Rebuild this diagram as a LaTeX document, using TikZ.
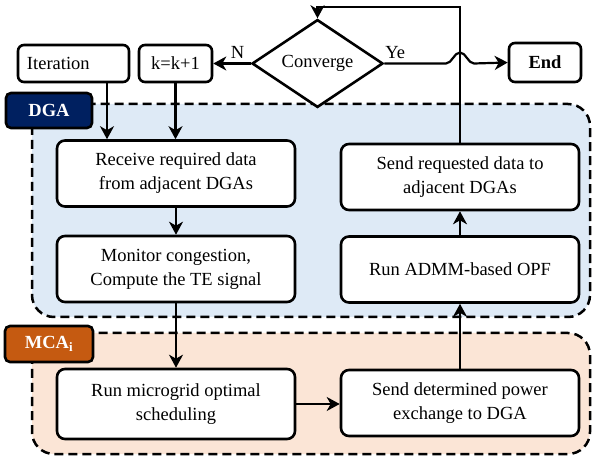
\documentclass[tikz,border=0pt]{standalone}
\usepackage{fontspec}
\setmainfont{Liberation Serif}
\usetikzlibrary{arrows.meta}
\usetikzlibrary{calc}
\usetikzlibrary{positioning}
\usetikzlibrary{shapes.geometric}

\definecolor{dgafill}{RGB}{222,234,246}
\definecolor{mcafill}{RGB}{251,229,214}
\definecolor{dganavy}{RGB}{0,32,96}
\definecolor{mcaorange}{RGB}{197,90,17}
\newcommand{\flowfont}{\fontsize{18.5}{24}\selectfont}

\tikzset{
  box/.style={draw, line width=2.6pt, rounded corners=8pt, fill=white, minimum width=238pt, minimum height=66pt, align=center, inner sep=2pt},
  smallbox/.style={draw, line width=2.6pt, rounded corners=6pt, fill=white, minimum height=37pt, inner sep=0pt},
  region/.style={draw, line width=2.5pt, dash pattern=on 9pt off 5pt, rounded corners=22pt},
  tag/.style={draw, line width=2.6pt, rounded corners=5pt, text=white, font=\flowfont\bfseries, inner sep=0pt},
  arr/.style={line width=2.2pt, -{Stealth[length=13pt,width=14pt,inset=4pt]}}
}

\begin{document}
\begin{tikzpicture}[x=1pt,y=-1pt,font=\flowfont]
\useasboundingbox (0,0) rectangle (592,462);

% agent regions
\draw[region, fill=dgafill] (32,104) rectangle (590,317);
\draw[region, fill=mcafill] (32,333) rectangle (590,454);
\node[tag, fill=dganavy, minimum width=86pt, minimum height=35pt] (dgatag) at (49,110.5) {DGA};
\node[tag, fill=mcaorange, minimum width=88pt, minimum height=36pt] (mcatag) at (49,344) {MCA\textsubscript{i}};

% top row
\node[smallbox, minimum width=111pt, text width=93pt, align=left, inner sep=9pt] (iter) at (73.5,63.5) {Iteration};
\node[smallbox, minimum width=73pt] (kinc) at (175.5,63.5) {k=k+1};
\node[draw, diamond, line width=2.6pt, fill=white, minimum width=131pt, minimum height=57pt, inner sep=0pt] (conv) at (317.5,63.5) {Converge};
\node[smallbox, minimum width=72pt, minimum height=39pt, font=\flowfont\bfseries] (endn) at (545,62.5) {End};

% DGA steps
\node[box] (recv) at (176,173.5) {Receive required data\\from adjacent DGAs};
\node[box] (mon) at (176,269) {Monitor congestion,\\Compute the TE signal};
\node[box] (sendreq) at (460,177) {Send requested data to\\adjacent DGAs};
\node[box] (admm) at (460,269.5) {Run ADMM-based OPF};

% MCA steps
\node[box, minimum height=70pt] (mgsch) at (176,404) {Run microgrid optimal\\scheduling};
\node[box] (sendpow) at (460,403) {Send determined power\\exchange to DGA};

% connectors
\coordinate (itx) at (107,0);
\coordinate (looptop) at (0,7);
\coordinate (hop) at (sendreq.north |- conv.east);
\draw[arr] (iter.south -| itx) -- (recv.north -| itx);
\draw[arr] (kinc.south) -- (kinc.south |- recv.north);
\draw[arr] (recv) -- (mon);
\draw[arr] (mon) -- (mgsch);
\draw[arr] (mgsch.east) -- (mgsch.east -| sendpow.west);
\draw[arr] (sendpow) -- (admm);
\draw[arr] (admm) -- (sendreq);
\draw[arr] (sendreq.north) -- (sendreq.north |- looptop) -| (conv.north);
\draw[arr] (conv.west) -- (kinc.east) node[pos=0.35, above=1pt] {N};
\draw[arr] (conv.east) -- ($(hop)+(-14,0)$) .. controls +(6,0) and +(-6,0) .. ($(hop)+(0,-11)$)
  .. controls +(6,0) and +(-6,0) .. ($(hop)+(14,0)$) -- (endn.west);
\node[above=1pt] (yeslbl) at ($(conv.east)+(11,0)$) {Ye};
\end{tikzpicture}
\end{document}
